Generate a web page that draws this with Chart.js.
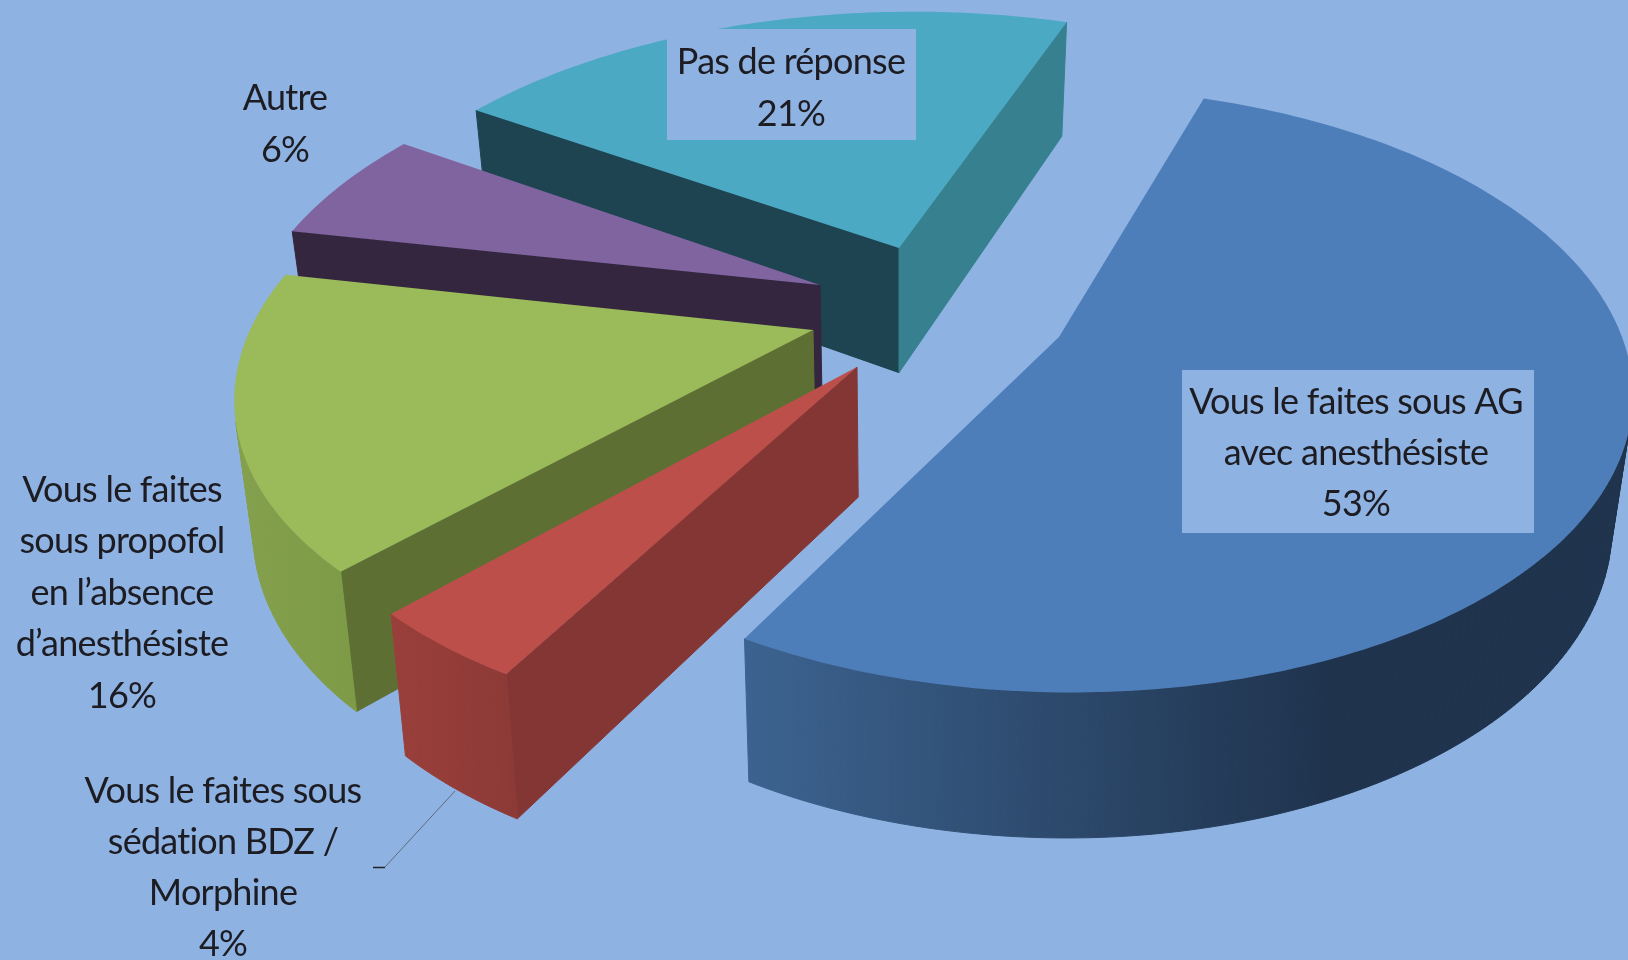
<!DOCTYPE html>
<html lang="fr">
<head>
<meta charset="utf-8">
<title>Sédation</title>
<script src="https://cdn.jsdelivr.net/npm/chart.js@4"></script>
<style>
    html, body { margin: 0; padding: 0; background: #8EB2E2; overflow: hidden; }
    canvas { display: block; }
</style>
</head>
<body>
<canvas id="pie" width="1628" height="960"></canvas>
<script>
// Parts du camembert, dans le sens des aiguilles d'une montre
const categories = [
    'Vous le faites sous AG avec anesthésiste',
    'Vous le faites sous sédation BDZ / Morphine',
    'Vous le faites sous propofol en l’absence d’anesthésiste',
    'Autre',
    'Pas de réponse'
];
const shares = [53, 4, 16, 6, 21];
const labelLines = [
    ['Vous le faites sous AG', 'avec anesthésiste'],
    ['Vous le faites sous', 'sédation BDZ /', 'Morphine'],
    ['Vous le faites', 'sous propofol', 'en l’absence', 'd’anesthésiste'],
    ['Autre'],
    ['Pas de réponse']
];

const background = '#8EB2E2';
const topColors = ['#4D7EB9', '#BD4F4B', '#9BBA59', '#8064A0', '#4BA9C4'];

// Decalage de chaque part par rapport au centre du camembert
const pieCenter = { x: 880, y: 320 };
const sliceShift = [
    { x: 179, y: 17 },
    { x: -23, y: 47 },
    { x: -67, y: 10 },
    { x: -60, y: -35 },
    { x: 19, y: -72 }
];

// Faces laterales : arete de debut, arete de fin, tranche (degrade en x)
const sideStyles = [
    { start: '#1F334D', end: '#3A6090', rim: ['#3C6390', '#1F334D'], rimX: [745, 1330] },
    { start: '#843634', end: '#843634', rim: ['#9A3F3B', '#8D3A37'], rimX: [390, 510] },
    { start: '#5E6F33', end: '#5E6F33', rim: ['#84A04C', '#7D9A47'], rimX: [240, 360] },
    { start: '#35263F', end: '#35263F', rim: ['#5F4A78', '#5F4A78'], rimX: [300, 400] },
    { start: '#1D4450', end: '#37808F', rim: ['#37808F', '#37808F'], rimX: [480, 1060] }
];

// Camera : point de fuite (vx, vy), echelles du disque et inclinaison
const view = { vx: 1000, vy: 250, a: 563, b: 278, k: 0.175 };

function project(angle, radius, i) {
    const u = Math.cos(angle) * radius;
    const v = Math.sin(angle) * radius;
    const w = 1 - view.k * v;
    const ox = pieCenter.x + sliceShift[i].x - view.vx;
    const oy = pieCenter.y + sliceShift[i].y - view.vy;
    return {
        x: view.vx + (ox + view.a * u) / w,
        y: view.vy + (oy + view.b * v) / w
    };
}

// Point correspondant sur la face inferieure
function extrude(p) {
    return { x: p.x + 0.0285 * (899 - p.x), y: p.y + 113 + 0.047 * p.y };
}

function polygon(ctx, points, fill) {
    ctx.beginPath();
    points.forEach(function(p, n) {
        if (n === 0) ctx.moveTo(p.x, p.y);
        else ctx.lineTo(p.x, p.y);
    });
    ctx.closePath();
    ctx.fillStyle = fill;
    ctx.fill();
}

// Une face n'est visible que si l'arete est parcourue dans le sens negatif
function drawSide(ctx, a, b, fill) {
    const quad = [a, b, extrude(b), extrude(a)];
    let area = 0;
    quad.forEach(function(p, n) {
        const q = quad[(n + 1) % 4];
        area += p.x * q.y - q.x * p.y;
    });
    if (area >= 0) return;
    polygon(ctx, quad, fill);
    ctx.strokeStyle = fill;
    ctx.lineWidth = 1;
    ctx.stroke();
}

function drawSlice(ctx, arc, i) {
    const apex = project(0, 0, i);
    const side = sideStyles[i];
    const steps = Math.max(12, Math.round((arc.endAngle - arc.startAngle) * 60));
    const rimPoints = [];
    for (let n = 0; n <= steps; n++) {
        rimPoints.push(project(arc.startAngle + (arc.endAngle - arc.startAngle) * n / steps, 1, i));
    }

    const rimFill = ctx.createLinearGradient(side.rimX[0], 0, side.rimX[1], 0);
    rimFill.addColorStop(0, side.rim[0]);
    rimFill.addColorStop(1, side.rim[1]);

    drawSide(ctx, apex, rimPoints[0], side.start);
    for (let n = 0; n < steps; n++) {
        drawSide(ctx, rimPoints[n], rimPoints[n + 1], rimFill);
    }
    drawSide(ctx, rimPoints[steps], apex, side.end);
    polygon(ctx, [apex].concat(rimPoints), topColors[i]);
}

const pie3d = {
    id: 'pie3d',
    beforeDatasetsDraw(chart) {
        const ctx = chart.ctx;
        const arcs = chart.getDatasetMeta(0).data;
        ctx.save();
        // de l'arriere vers l'avant
        for (let i = arcs.length - 1; i >= 0; i--) {
            drawSlice(ctx, arcs[i], i);
        }
        ctx.restore();
        return false;
    },
    afterDraw(chart) {
        const ctx = chart.ctx;
        ctx.save();
        // trait de rappel de la petite part
        ctx.strokeStyle = '#5f6b78';
        ctx.lineWidth = 1;
        ctx.beginPath();
        ctx.moveTo(455, 791);
        ctx.lineTo(385, 867);
        ctx.stroke();
        ctx.strokeStyle = '#222';
        ctx.lineWidth = 1.5;
        ctx.beginPath();
        ctx.moveTo(373, 867.5);
        ctx.lineTo(385, 867.5);
        ctx.stroke();

        labelSpots.forEach(function(spot, i) {
            if (spot.box) {
                ctx.fillStyle = background;
                ctx.fillRect(spot.box[0], spot.box[1], spot.box[2], spot.box[3]);
            }
            ctx.fillStyle = '#1c1c22';
            ctx.font = '36px Lato';
            ctx.letterSpacing = '-0.75px';
            ctx.textAlign = 'center';
            ctx.textBaseline = 'middle';
            const lines = labelLines[i].concat(shares[i] + '%');
            lines.forEach(function(line, n) {
                ctx.fillText(line, spot.x, spot.y + n * spot.gap);
            });
        });
        ctx.restore();
    }
};

// Emplacement des etiquettes
const labelSpots = [
    { x: 1356, y: 402, gap: 51, box: [1182, 370, 352, 163] },
    { x: 223, y: 791, gap: 51 },
    { x: 122, y: 490, gap: 51.5 },
    { x: 285, y: 98, gap: 52 },
    { x: 791, y: 62, gap: 52, box: [667, 29, 249, 111] }
];

new Chart(document.getElementById('pie'), {
    type: 'pie',
    data: {
        labels: categories,
        datasets: [{ data: shares, backgroundColor: topColors, borderWidth: 0 }]
    },
    options: {
        responsive: false,
        animation: false,
        rotation: 18.5,
        plugins: {
            legend: { display: false },
            tooltip: { enabled: false }
        }
    },
    plugins: [pie3d]
});
</script>
</body>
</html>
